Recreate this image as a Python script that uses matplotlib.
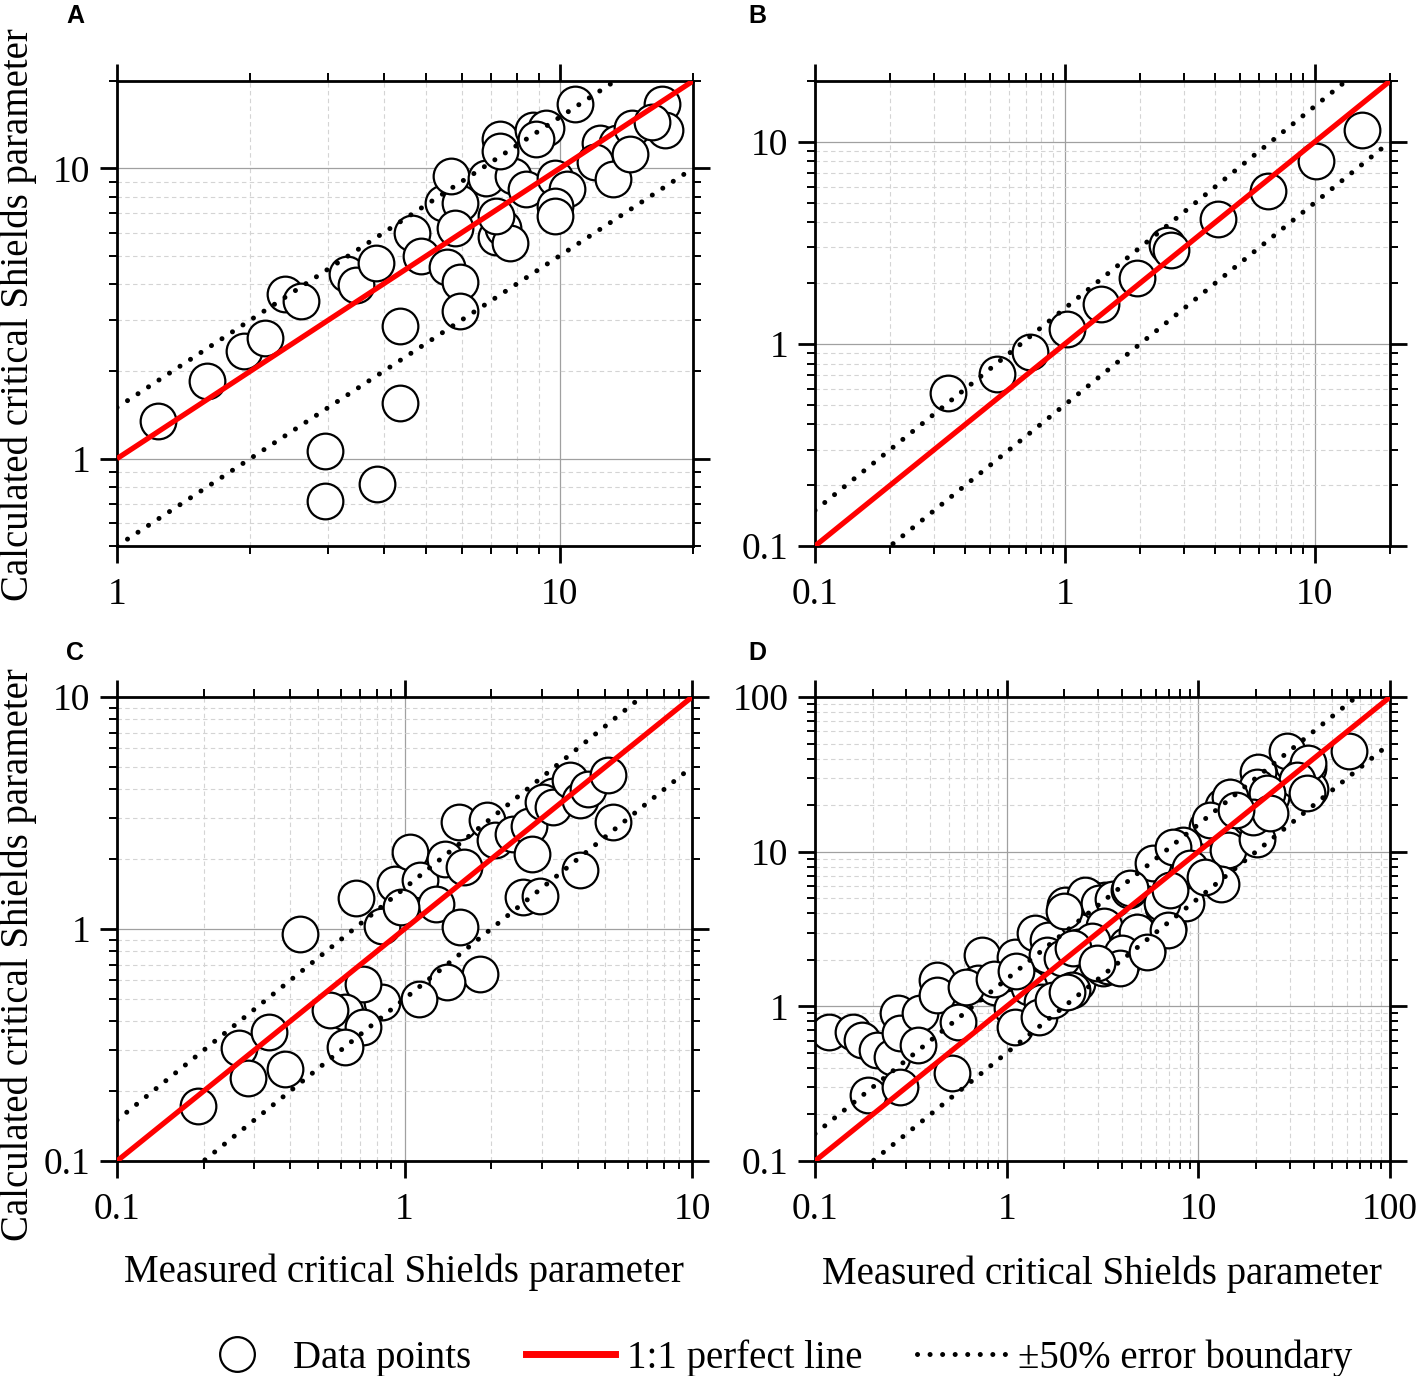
import numpy as np
import matplotlib
matplotlib.use('Agg')
import matplotlib.pyplot as plt
from matplotlib.ticker import LogLocator, FuncFormatter, NullFormatter
from matplotlib.lines import Line2D

# values (measured, calculated)
a_meas = [1.24, 1.60, 1.94, 2.16, 2.39, 2.60, 3.30, 3.47, 3.84, 4.35, 4.35, 2.95, 2.95, 3.86,
          4.63, 4.87, 5.55, 5.95, 5.95, 5.45, 5.95, 5.79, 5.69, 6.83, 7.85, 8.41, 9.74, 10.4,
          9.74, 9.74, 7.19, 7.45, 7.71, 7.19, 7.32, 7.32, 8.7, 9.33, 8.86, 10.8, 12.3, 13.5,
          12.0, 13.2, 14.6, 14.4, 17.0, 17.3, 16.2]
a_calc = [1.35, 1.85, 2.35, 2.61, 3.68, 3.49, 4.34, 3.96, 4.71, 2.86, 1.56, 1.06, 0.713, 0.815,
          6.01, 5.0, 4.56, 4.05, 3.23, 7.62, 7.62, 6.25, 9.41, 9.29, 9.41, 8.47, 9.29, 8.47,
          7.42, 6.86, 5.78, 6.25, 5.55, 6.86, 12.6, 11.5, 13.6, 13.8, 12.6, 16.6, 12.2, 12.2,
          10.5, 9.17, 13.8, 11.2, 16.6, 13.6, 14.4]

b_meas = [0.341, 0.533, 0.726, 1.02, 1.40, 1.94, 2.56, 2.67, 4.11, 6.50, 10.07, 15.4]
b_calc = [0.573, 0.711, 0.911, 1.18, 1.57, 2.13, 3.08, 2.92, 4.13, 5.71, 8.0, 11.4]

c_meas = [0.191, 0.265, 0.285, 0.337, 0.383, 0.433, 0.678, 0.833, 0.927, 1.045, 1.13, 1.38,
          1.29, 1.61, 1.56, 1.55, 1.93, 2.07, 2.39, 2.70, 2.77, 3.29, 3.04, 3.29, 3.77, 4.08,
          4.36, 5.11, 5.32, 4.08, 2.59, 2.96, 1.83, 1.40, 1.12, 0.833, 0.72, 0.621, 0.551,
          0.72, 0.621, 0.976]
c_calc = [0.172, 0.306, 0.228, 0.359, 0.248, 0.953, 1.36, 1.03, 1.57, 2.14, 1.62, 2.01,
          1.28, 1.85, 1.02, 2.89, 2.96, 2.41, 2.57, 2.79, 2.11, 3.76, 3.52, 3.35, 4.37, 3.58,
          4.02, 4.59, 2.89, 1.79, 1.37, 1.39, 0.641, 0.590, 0.500, 0.484, 0.581, 0.438, 0.446,
          0.377, 0.31, 1.24]

d_meas = [0.118, 0.158, 0.175, 0.21, 0.253, 0.272, 0.277, 0.353, 0.346, 0.432, 0.432, 0.559,
          0.516, 0.19, 0.277, 0.741, 0.711, 0.869, 1.10, 1.06, 1.30, 1.41, 1.65, 1.62, 2.01,
          2.27, 2.32, 1.52, 1.10, 2.67, 3.26, 3.19, 2.78, 1.95, 2.37, 2.57, 3.03, 3.57, 4.34,
          3.21, 2.79, 3.39, 3.98, 4.22, 4.84, 5.41, 6.94, 5.87, 6.56, 7.33, 8.88, 8.18, 8.6,
          11.1, 13.4, 14.2, 13.1, 18.7, 20.3, 20.8, 22.0, 23.9, 29.0, 34.3, 37.2, 38.3, 61.1,
          37.4, 32.6, 36.7, 20.5, 20.2, 22.7, 19.3, 23.6, 14.6, 11.5, 15.8, 8.34, 8.69, 5.82,
          7.4, 9.04, 10.8, 4.4, 6.44, 7.11, 4.76, 6.97, 2.22, 2.0, 3.98, 3.9, 5.37, 2.95, 2.18,
          0.613, 0.855, 1.12, 1.48, 1.74, 2.06]
d_calc = [0.686, 0.686, 0.605, 0.522, 0.472, 0.90, 0.668, 0.90, 0.562, 1.48, 1.18, 0.795,
          0.369, 0.267, 0.302, 2.15, 1.41, 1.34, 2.09, 0.97, 1.34, 2.96, 2.68, 2.15, 4.52,
          2.31, 1.41, 1.07, 0.738, 5.1, 4.86, 1.76, 2.31, 2.06, 2.41, 5.28, 4.65, 4.96, 5.62,
          3.3, 2.64, 1.81, 1.93, 2.48, 3.0, 2.33, 3.19, 7.73, 4.37, 5.62, 7.23, 10.4, 4.65,
          14.5, 19.8, 10.2, 6.18, 16.4, 12.0, 31.7, 27.0, 22.4, 44.8, 30.7, 34.8, 25.4, 44.8,
          37.2, 29.1, 23.8, 32.9, 26.3, 23.8, 16.8, 17.7, 22.6, 16.0, 18.6, 11.0, 7.6, 8.4,
          10.7, 7.8, 6.9, 5.8, 4.64, 5.65, 3.03, 3.11, 2.37, 4.11, 2.2, 1.76, 2.25, 1.9, 1.27,
          1.33, 1.5, 1.70, 0.85, 1.1, 1.24]

panels = [
    ('A', a_meas, a_calc, (1, 20), (0.5, 20)),
    ('B', b_meas, b_calc, (0.1, 20), (0.1, 20)),
    ('C', c_meas, c_calc, (0.1, 10), (0.1, 10)),
    ('D', d_meas, d_calc, (0.1, 100), (0.1, 100)),
]

plt.rcParams['font.family'] = ['Liberation Serif', 'DejaVu Serif']

W, H = 1417, 1376
fig = plt.figure(figsize=(W / 100, H / 100), dpi=100)

# axes boxes in pixels: left, top, right, bottom
boxes = [(117, 81, 693, 546), (815, 81, 1390, 546),
         (117, 697, 692, 1161), (815, 697, 1390, 1161)]
letter_pos = [(66, 4), (748, 4), (66, 641), (748, 641)]

fmt = FuncFormatter(lambda v, p: f'{v:g}')

for (name, xm, yc, xl, yl), (l, t, r, b), (lx, ly) in zip(panels, boxes, letter_pos):
    ax = fig.add_axes([l / W, 1 - b / H, (r - l) / W, (b - t) / H])
    ax.set_xscale('log')
    ax.set_yscale('log')
    ax.set_xlim(*xl)
    ax.set_ylim(*yl)
    for axis in (ax.xaxis, ax.yaxis):
        axis.set_major_locator(LogLocator(base=10, numticks=10))
        axis.set_minor_locator(LogLocator(base=10, subs=np.arange(2, 10), numticks=100))
        axis.set_major_formatter(fmt)
        axis.set_minor_formatter(NullFormatter())
    ax.tick_params(which='both', direction='out', top=True, right=True)
    ax.tick_params(which='major', length=12, width=2, labelsize=27)
    ax.tick_params(axis='x', which='major', pad=11)
    ax.tick_params(axis='y', which='major', pad=7)
    ax.tick_params(which='minor', length=5.5, width=1.4)
    for sp in ax.spines.values():
        sp.set_linewidth(2)
    ax.grid(which='major', color='#a0a0a0', lw=0.9, ls='-')
    ax.grid(which='minor', color='#d4d4d4', lw=0.8, ls=(0, (4, 3)))
    ax.set_axisbelow(True)

    ax.scatter(xm, yc, s=660, facecolor='white', edgecolor='black', linewidth=1.6, zorder=2)

    xs = np.array(xl, dtype=float)
    ax.plot(xs, xs, color='#ff0000', lw=3.8, zorder=4, solid_capstyle='butt')
    for k in (1.5, 0.5):
        ax.plot(xs, k * xs, color='black', lw=3.6, ls=(0, (0.01, 2.5)),
                dash_capstyle='round', zorder=3)

    fig.text(lx / W, 1 - ly / H, name, family='Liberation Sans', weight='bold',
             fontsize=18, ha='left', va='top')

ylab = 'Calculated critical Shields parameter'
xlab = 'Measured critical Shields parameter'
fig.text(18 / W, 1 - 315 / H, ylab, rotation=90, ha='center', va='center', fontsize=28)
fig.text(18 / W, 1 - 955 / H, ylab, rotation=90, ha='center', va='center', fontsize=28)
fig.text(404 / W, 1 - 1272 / H, xlab, ha='center', va='center', fontsize=28)
fig.text(1102 / W, 1 - 1274 / H, xlab, ha='center', va='center', fontsize=28)

handles = [
    Line2D([], [], marker='o', ms=25, mfc='white', mec='black', mew=1.6, ls='none'),
    Line2D([], [], color='#ff0000', lw=5),
    Line2D([], [], color='black', lw=3.6, ls=(0, (0.01, 2.5)), dash_capstyle='round'),
]
labels = ['Data points', '1:1 perfect line', '\u00b150% error boundary']
fig.legend(handles, labels, loc='center', bbox_to_anchor=(772 / W, 1 - 1358 / H),
           ncol=3, frameon=False, fontsize=28, handlelength=2.3, handletextpad=0.3,
           columnspacing=1.4, borderpad=0, borderaxespad=0)

fig.savefig('out.png', dpi=100)
